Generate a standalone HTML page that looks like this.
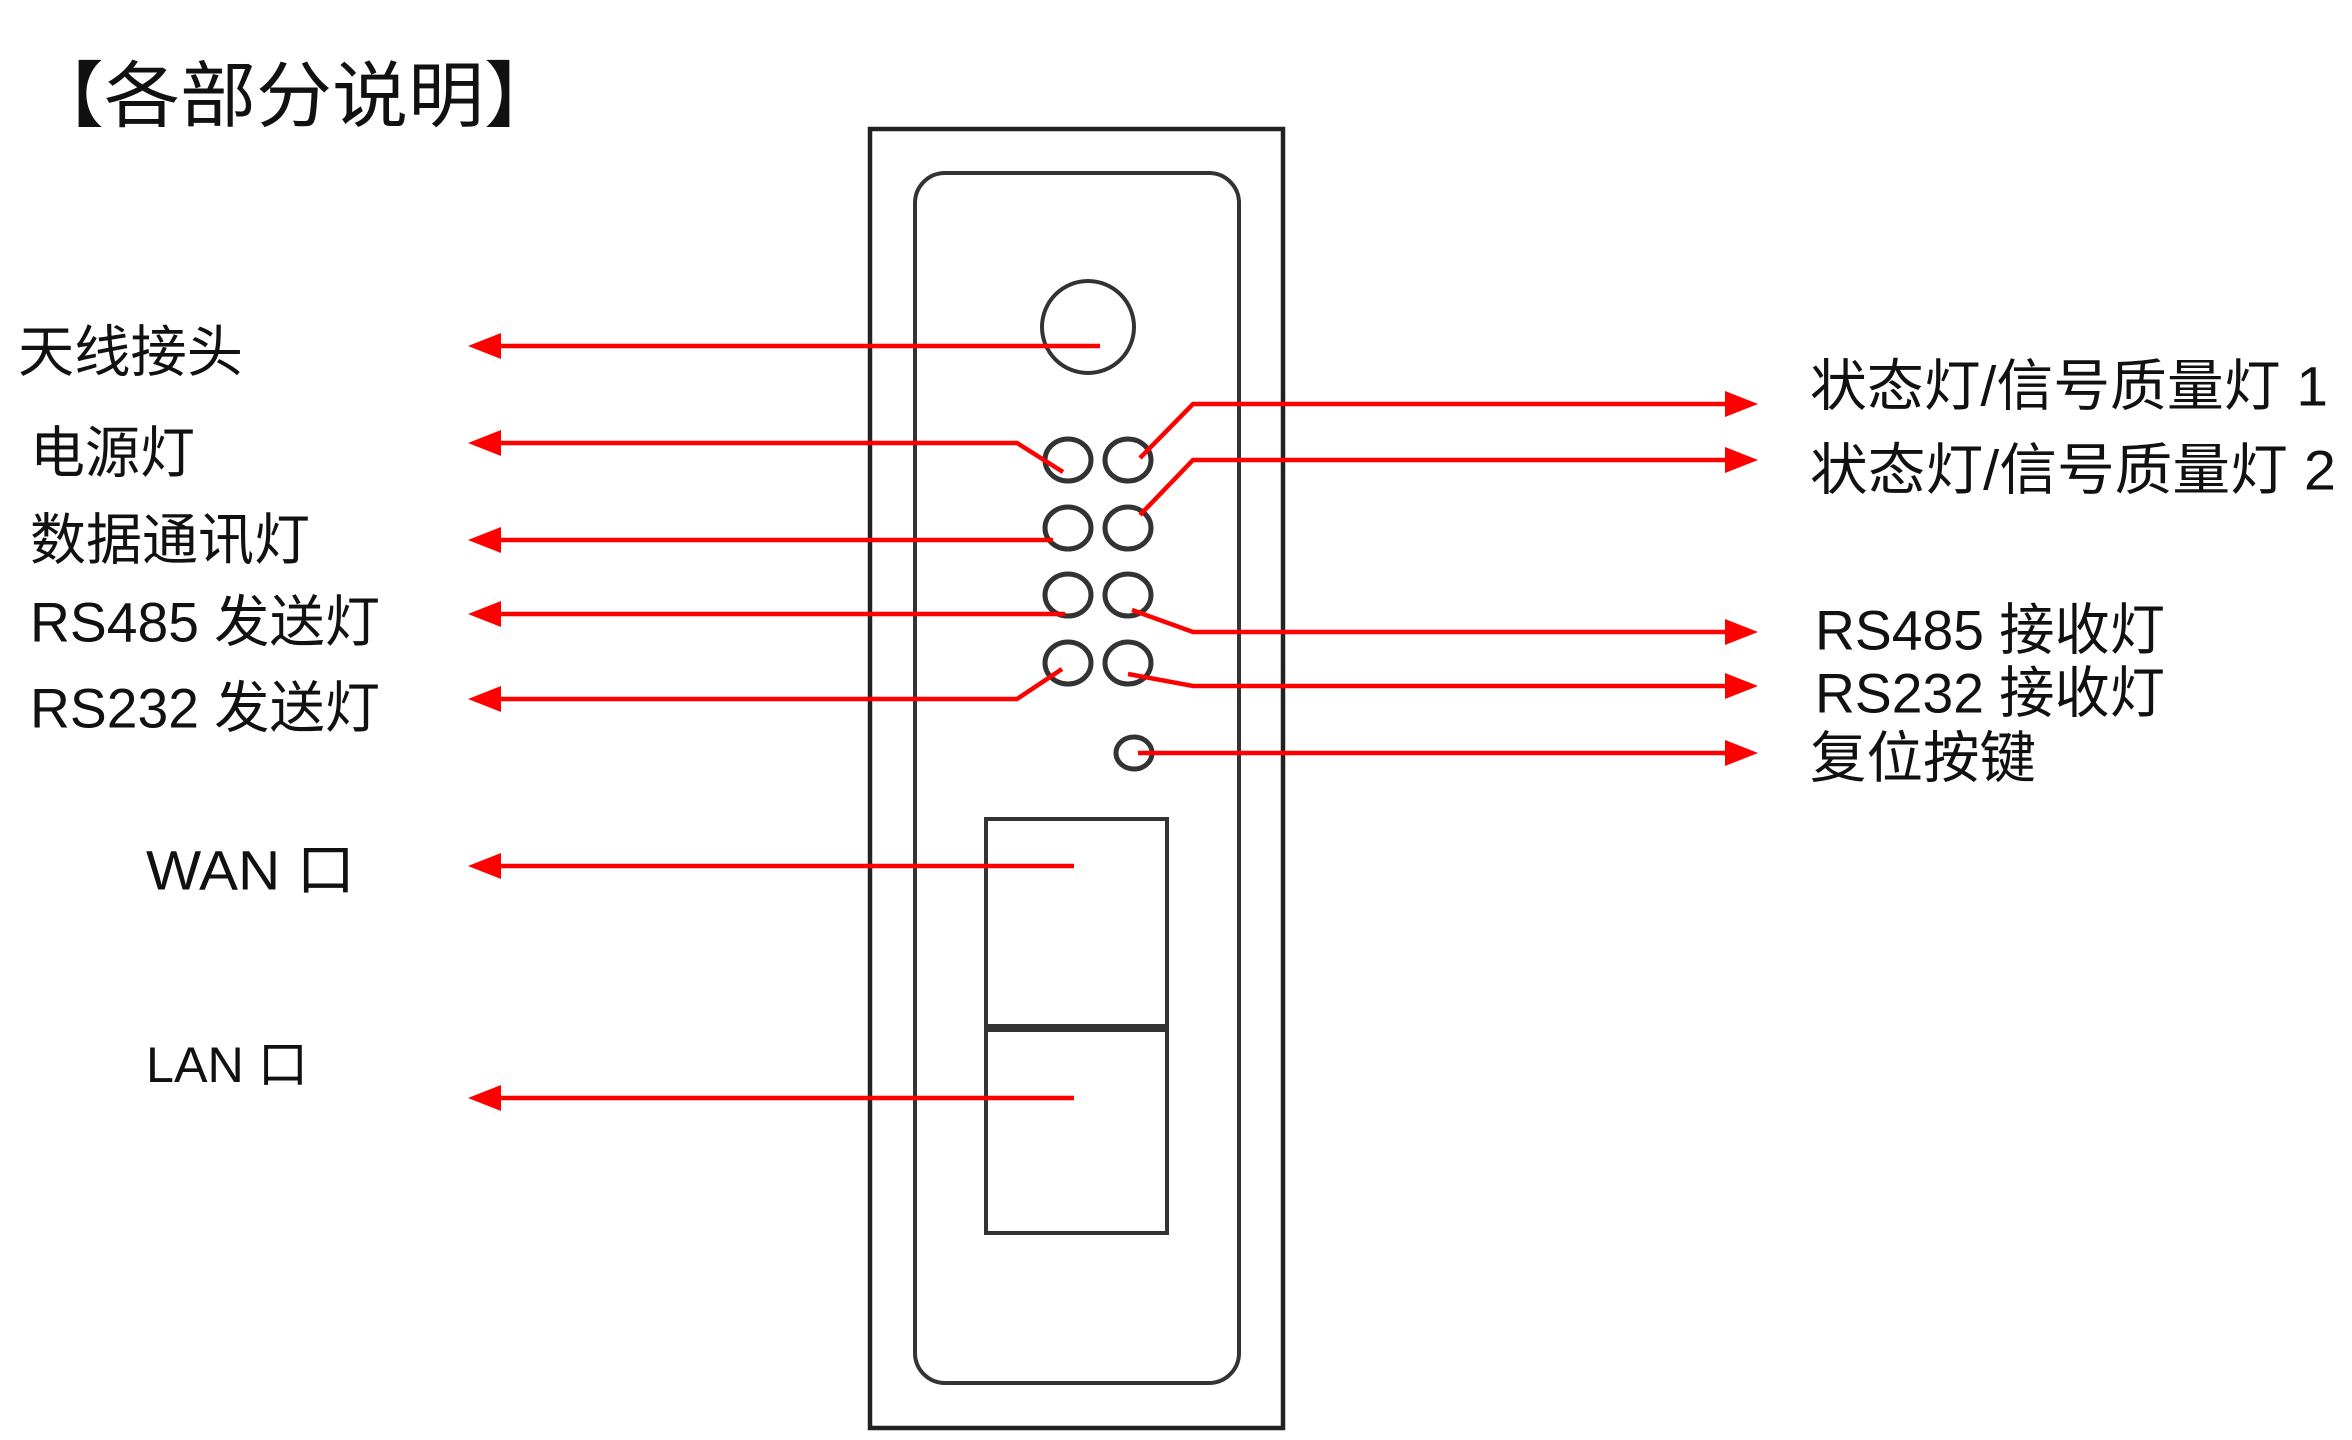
<!DOCTYPE html>
<html><head><meta charset="utf-8"><style>
html,body{margin:0;padding:0;background:#fff;}
svg{display:block;}
text{font-family:"Liberation Sans","Noto Sans CJK SC",sans-serif;fill:#111;dominant-baseline:central;}
</style></head><body>
<svg width="2352" height="1440" viewBox="0 0 2352 1440" xmlns="http://www.w3.org/2000/svg">
<text x="28" y="97" font-size="72" textLength="532" lengthAdjust="spacingAndGlyphs">【各部分说明】</text>

<!-- device -->
<rect x="870" y="129" width="413" height="1299" fill="none" stroke="#222" stroke-width="4.5"/>
<rect x="915" y="173" width="324" height="1210" rx="30" fill="none" stroke="#333" stroke-width="4"/>
<circle cx="1088" cy="327" r="46" fill="none" stroke="#333" stroke-width="4"/>
<g fill="none" stroke="#333" stroke-width="5">
<ellipse cx="1068" cy="460" rx="23" ry="21"/><ellipse cx="1128" cy="460" rx="23" ry="21"/>
<ellipse cx="1068" cy="528" rx="23" ry="21"/><ellipse cx="1128" cy="528" rx="23" ry="21"/>
<ellipse cx="1068" cy="595" rx="23" ry="21"/><ellipse cx="1128" cy="595" rx="23" ry="21"/>
<ellipse cx="1068" cy="663" rx="23" ry="21"/><ellipse cx="1128" cy="663" rx="23" ry="21"/>
<ellipse cx="1134" cy="753" rx="18" ry="16"/>
</g>
<rect x="986" y="819" width="181" height="207" fill="none" stroke="#333" stroke-width="4"/>
<rect x="986" y="1030" width="181" height="203" fill="none" stroke="#333" stroke-width="4"/>

<!-- red connectors -->
<g fill="none" stroke="#f00" stroke-width="4.5">
<polyline points="1100,346 495,346"/>
<polyline points="1063,472 1017,443 495,443"/>
<polyline points="1053,540 495,540"/>
<polyline points="1065,614 495,614"/>
<polyline points="1062,669 1017,699 495,699"/>
<polyline points="1074,866 495,866"/>
<polyline points="1074,1098 495,1098"/>
<polyline points="1140,458 1193,404 1730,404"/>
<polyline points="1140,515 1193,460 1730,460"/>
<polyline points="1132,610 1193,632 1730,632"/>
<polyline points="1128,674 1193,686 1730,686"/>
<polyline points="1138,753 1730,753"/>
</g>
<g fill="#f00">
<polygon points="468,346 501,333 501,359"/>
<polygon points="468,443 501,430 501,456"/>
<polygon points="468,540 501,527 501,553"/>
<polygon points="468,614 501,601 501,627"/>
<polygon points="468,699 501,686 501,712"/>
<polygon points="468,866 501,853 501,879"/>
<polygon points="468,1098 501,1085 501,1111"/>
<polygon points="1758,404 1725,391 1725,417"/>
<polygon points="1758,460 1725,447 1725,473"/>
<polygon points="1758,632 1725,619 1725,645"/>
<polygon points="1758,686 1725,673 1725,699"/>
<polygon points="1758,753 1725,740 1725,766"/>
</g>

<g font-size="56">
<text x="18" y="352" textLength="225" lengthAdjust="spacingAndGlyphs">天线接头</text>
<text x="30" y="453" textLength="165" lengthAdjust="spacingAndGlyphs">电源灯</text>
<text x="30" y="540" textLength="280" lengthAdjust="spacingAndGlyphs">数据通讯灯</text>
<text x="30" y="622" textLength="350" lengthAdjust="spacingAndGlyphs">RS485 发送灯</text>
<text x="30" y="708" textLength="350" lengthAdjust="spacingAndGlyphs">RS232 发送灯</text>
<text x="146" y="870" textLength="209" lengthAdjust="spacingAndGlyphs">WAN 口</text>
<text x="146" y="1065" font-size="50" textLength="162" lengthAdjust="spacingAndGlyphs">LAN 口</text>
<text x="1810" y="386" textLength="518" lengthAdjust="spacingAndGlyphs">状态灯/信号质量灯 1</text>
<text x="1810" y="470" textLength="526" lengthAdjust="spacingAndGlyphs">状态灯/信号质量灯 2</text>
<text x="1815" y="630" textLength="350" lengthAdjust="spacingAndGlyphs">RS485 接收灯</text>
<text x="1815" y="693" textLength="350" lengthAdjust="spacingAndGlyphs">RS232 接收灯</text>
<text x="1810" y="758" textLength="226" lengthAdjust="spacingAndGlyphs">复位按键</text>
</g>
</svg>
</body></html>
